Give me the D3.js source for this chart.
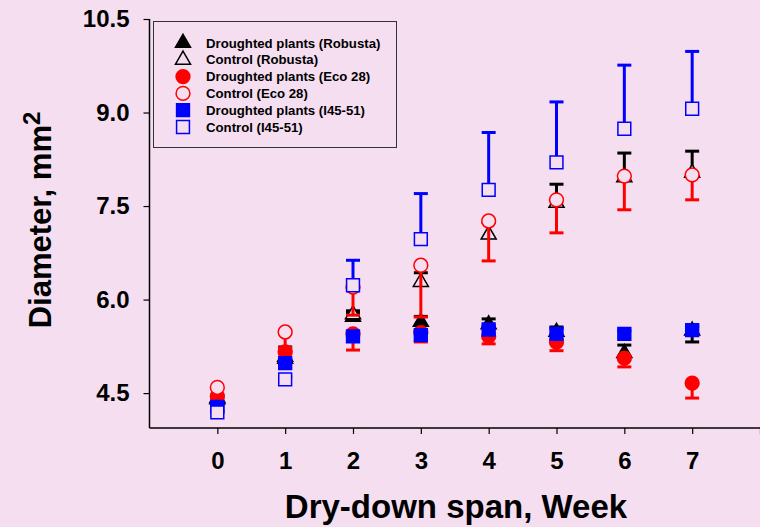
<!DOCTYPE html>
<html>
<head>
<meta charset="utf-8">
<script src="https://cdn.jsdelivr.net/npm/d3@7"></script>
<style>
  html, body { margin: 0; padding: 0; background: #F5DEF0; }
  svg { display: block; }
  text { font-family: Arial, "Liberation Sans", sans-serif; font-weight: bold; fill: #000; }
</style>
</head>
<body>
<svg id="chart" width="760" height="527"></svg>
<script>
// ---- data ----
const weeks = [0, 1, 2, 3, 4, 5, 6, 7];
const xTicks = [0, 1, 2, 3, 4, 5, 6, 7, 8];
const xTickLabels = ["0", "1", "2", "3", "4", "5", "6", "7", ""];
const yTicks = [4.5, 6.0, 7.5, 9.0, 10.5];

const seriesNames = [
  "Droughted plants (Robusta)",
  "Control (Robusta)",
  "Droughted plants (Eco 28)",
  "Control (Eco 28)",
  "Droughted plants (I45-51)",
  "Control (I45-51)"
];
const robustaDrought    = [4.40, 5.05, 5.72, 5.64, 5.60, 5.48, 5.14, 5.50];
const robustaDroughtErr = [-0.09, 0.19, 0.06, 0.09, 0.09, 0.08, 0.13, -0.18];
const robustaControl    = [4.42, 5.08, 5.76, 6.28, 7.04, 7.55, 7.96, 8.03];
const robustaControlErr = [0.03, 0.10, 0.06, 0.15, 0.20, 0.30, 0.39, 0.35];
const ecoDrought        = [4.45, 5.16, 5.45, 5.47, 5.41, 5.32, 5.06, 4.66];
const ecoDroughtErr     = [-0.05, -0.16, -0.26, -0.15, -0.12, -0.14, -0.14, -0.24];
const ecoControl        = [4.59, 5.48, 6.20, 6.55, 7.26, 7.60, 7.98, 8.00];
const ecoControlErr     = [-0.12, -0.25, -0.45, -0.83, -0.64, -0.53, -0.54, -0.40];
const i45Drought        = [4.28, 4.98, 5.41, 5.43, 5.52, 5.45, 5.45, 5.51];
const i45DroughtErr     = [0.05, 0.05, 0.05, 0.06, 0.05, 0.09, 0.05, 0.06];
const i45Control        = [4.19, 4.72, 6.23, 6.97, 7.76, 8.20, 8.74, 9.06];
const i45ControlErr     = [0.02, 0.04, 0.40, 0.73, 0.92, 0.97, 1.02, 0.92];

const seriesValues = [robustaDrought, robustaControl, ecoDrought, ecoControl, i45Drought, i45Control];
const seriesErrors = [robustaDroughtErr, robustaControlErr, ecoDroughtErr, ecoControlErr, i45DroughtErr, i45ControlErr];
const seriesColors = ["#000000", "#000000", "#FF0000", "#FF0000", "#0000FF", "#0000FF"];
const seriesShapes = ["triangle", "triangle", "circle", "circle", "square", "square"];
const seriesFilled = [true, false, true, false, true, false];

// ---- layout ----
const bg = "#F5DEF0";
const svg = d3.select("#chart");
svg.append("rect").attr("width", 760).attr("height", 527).attr("fill", bg);

const x = d3.scaleLinear().domain([-1, 8]).range([149.5, 760]);
const y = d3.scaleLinear().domain([3.94, 10.5]).range([428, 19]);

const symbolType = { triangle: d3.symbolTriangle, circle: d3.symbolCircle, square: d3.symbolSquare };
const symbolSize = { triangle: 98, circle: 150, square: 165 };
function symbolPath(shape) { return d3.symbol().type(symbolType[shape]).size(symbolSize[shape])(); }

// axes
const xAxis = d3.axisBottom(x).tickValues(xTicks).tickSize(6).tickPadding(18)
  .tickFormat((d, i) => xTickLabels[i]);
const gx = svg.append("g").attr("transform", "translate(0,428)").call(xAxis);
gx.select(".domain").attr("stroke", "#000").attr("stroke-width", 1.5).attr("d", "M149.5,0H760");
gx.selectAll(".tick line").attr("stroke", "#000").attr("stroke-width", 1.2);
gx.selectAll(".tick text").style("font-size", "24px").attr("font-family", null).attr("dy", "0.71em");

const yAxis = d3.axisLeft(y).tickValues(yTicks).tickSize(6).tickPadding(14)
  .tickFormat(d3.format(".1f"));
const gy = svg.append("g").attr("transform", "translate(149.5,0)").call(yAxis);
gy.select(".domain").attr("stroke", "#000").attr("stroke-width", 1.5).attr("d", "M0,19V428");
gy.selectAll(".tick line").attr("stroke", "#000").attr("stroke-width", 1.2);
gy.selectAll(".tick text").style("font-size", "24px").attr("font-family", null);

// axis titles
svg.append("text").attr("x", 456).attr("y", 518).attr("text-anchor", "middle")
  .style("font-size", "33px").text("Dry-down span, Week");
const yt = svg.append("text").attr("transform", "translate(51,220) rotate(-90)")
  .attr("text-anchor", "middle").style("font-size", "31px");
yt.append("tspan").text("Diameter, mm");
yt.append("tspan").attr("dy", "-11").style("font-size", "24px").text("2");

// legend
const lg = svg.append("g");
lg.append("rect").attr("x", 153.5).attr("y", 21.5).attr("width", 243).attr("height", 126)
  .attr("fill", bg).attr("stroke", "#333").attr("stroke-width", 1);
const legendRowY = d3.scaleLinear().domain([0, 5]).range([43, 127]);
seriesNames.forEach((name, i) => {
  const cy = legendRowY(i);
  lg.append("path").attr("d", symbolPath(seriesShapes[i]))
    .attr("transform", `translate(183,${cy})`)
    .attr("fill", seriesFilled[i] ? seriesColors[i] : bg)
    .attr("stroke", seriesColors[i]).attr("stroke-width", 1.5);
  lg.append("text").attr("x", 206).attr("y", cy + 4.5).style("font-size", "13.2px").text(name);
});

// series: error bars then markers, in legend order
const capHalf = 7;
seriesValues.forEach((vals, s) => {
  const g = svg.append("g");
  const color = seriesColors[s];
  const errs = seriesErrors[s];
  weeks.forEach((w, i) => {
    const v = vals[i], e = errs[i];
    const cx = x(w), y0 = y(v), y1 = y(v + e);
    g.append("line").attr("x1", cx).attr("x2", cx).attr("y1", y0).attr("y2", y1)
      .attr("stroke", color).attr("stroke-width", 3);
    g.append("line").attr("x1", cx - capHalf).attr("x2", cx + capHalf).attr("y1", y1).attr("y2", y1)
      .attr("stroke", color).attr("stroke-width", 3);
  });
  weeks.forEach((w, i) => {
    g.append("path").attr("d", symbolPath(seriesShapes[s]))
      .attr("transform", `translate(${x(w)},${y(vals[i])})`)
      .attr("fill", seriesFilled[s] ? color : bg)
      .attr("stroke", color).attr("stroke-width", 1.5);
  });
});
</script>
</body>
</html>
